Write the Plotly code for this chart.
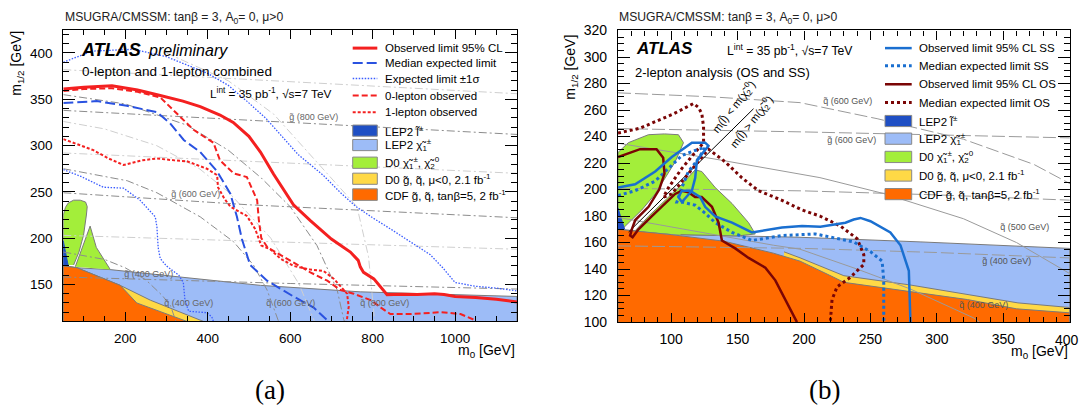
import plotly.graph_objects as go

W, H = 1081, 419
SANS = "Liberation Sans, Arial, sans-serif"
SERIF = "Liberation Serif, Times New Roman, serif"

# ================= Panel (a) data (m0, m1/2 in GeV) =================
a_obs_m0 = [50, 100, 168, 230, 285, 340, 382, 430, 462, 500, 528, 560, 608, 649, 700, 746, 765, 770, 778, 803, 835, 870, 908, 950, 973, 1000, 1050, 1100, 1150]
a_obs_m12 = [361, 363, 364.5, 360, 354, 348, 342, 333, 325, 310, 293, 269, 236, 219, 199, 185, 176, 169, 163, 156, 139, 139.5, 139, 140, 139, 137, 136, 134, 131]

a_med_m0 = [50, 131, 204, 277, 309, 342, 382, 423, 455, 471, 483, 503, 544, 608, 657, 689, 693]
a_med_m12 = [346, 348, 343, 336, 324, 306, 293, 272, 248, 223, 199, 171, 154, 137, 125, 111, 110]

a_up_m0 = [50, 120, 220, 300, 400, 450, 495, 540, 580, 620, 680, 720, 760, 800, 850, 900, 940, 970, 1000, 1050, 1100, 1150]
a_up_m12 = [390, 402, 404, 396, 378, 365, 348, 330, 310, 290, 268, 250, 234, 222, 208, 194, 182, 168, 152, 148, 146, 143]

a_lo_m0 = [50, 91, 147, 196, 236, 273, 277, 280, 285, 300, 330, 341, 345, 354, 398, 410, 414]
a_lo_m12 = [274, 267, 255, 254, 241, 223, 212, 190, 178, 170, 160, 152, 133, 121, 119.5, 115, 110]

a_0l_m0 = [50, 100, 168, 230, 285, 333, 366, 414, 430, 463, 495, 520, 524, 530, 545, 576, 617, 649, 690, 722, 754, 795, 820, 843, 892, 965, 1013, 1045, 1050]
a_0l_m12 = [359, 361, 362, 358, 352, 331, 317, 303, 284, 270, 266, 241, 220, 200, 190, 182, 171, 163, 154, 144, 140, 133, 125, 118, 118, 120, 118, 112, 110]

a_1l_m0 = [50, 90, 123, 160, 196, 240, 277, 320, 350, 398, 423, 425, 440, 455, 495, 515, 530, 552, 576, 608, 649, 681, 706, 730, 738, 742, 738, 737]
a_1l_m12 = [307, 300, 295, 286, 279, 284, 286, 284, 283, 275, 268, 255, 243, 234, 224, 210, 192, 188, 178, 170, 166, 164.5, 156, 144, 140, 126, 113, 110]

# excluded regions (a)
a_lepc_m0 = [50, 50, 83, 164, 333, 528, 770, 1150, 1150]
a_lepc_m12 = [110, 170, 168, 166, 158, 149, 142, 137, 110]
a_d0gq_m0 = [50, 50, 83, 188, 261, 390]
a_d0gq_m12 = [110, 170, 168, 149, 133, 110]
a_cdf_m0 = [50, 50, 83, 188, 228, 350]
a_cdf_m12 = [110, 170, 168, 149, 130, 110]
a_d0c1_m0 = [50, 50, 55, 62, 75, 91, 104, 108, 106, 99, 88, 75]
a_d0c1_m12 = [171, 225, 233, 238, 241, 241, 239, 234, 225, 203, 185, 171]
a_d0c2_m0 = [79, 115, 130, 164]
a_d0c2_m12 = [169, 213, 190, 166]
a_lepl_m0 = [50, 50, 54, 59, 62]
a_lepl_m12 = [170, 197, 188, 178, 170]

# iso-mass lines (a)
a_g400_m0, a_g400_m12 = [50, 600, 1150], [158, 151, 145]
a_g600_m0, a_g600_m12 = [50, 500, 1150], [249, 236, 222]
a_g800_m0, a_g800_m12 = [50, 550, 1150], [338, 326, 312]
a_g500_m0, a_g500_m12 = [50, 1150], [203, 188]
a_g700_m0, a_g700_m12 = [50, 1150], [292, 270]
a_g900_m0, a_g900_m12 = [50, 1150], [382, 356]
a_q400_m0 = [50, 150, 200, 250, 290, 310, 323]
a_q400_m12 = [185, 177, 168, 155, 138, 127, 110]
a_q600_m0 = [50, 205, 277, 382, 463, 511, 544, 568, 572]
a_q600_m12 = [275, 262, 249, 223, 196, 171, 144, 113, 110]
a_q800_m0 = [50, 200, 350, 450, 530, 600, 665, 714, 730, 732]
a_q800_m12 = [355, 345, 322, 295, 265, 234, 192, 144, 112, 110]
a_q700_m0 = [50, 150, 276, 380, 450, 553, 622, 659]
a_q700_m12 = [326, 318, 300, 275, 250, 200, 150, 110]
a_q900_m0 = [300, 450, 560, 660, 762, 790, 803, 805]
a_q900_m12 = [400, 370, 334, 285, 234, 180, 113, 110]

# ================= Panel (b) data =================
b_ssobs_m0 = [60, 72.9, 88, 100.5, 115.6, 125.6, 128.1, 123.1, 119.4, 118.1, 115.6, 108.1, 105.5, 108.1, 114.3, 121.9, 125.6, 133.2, 145.8, 160.8, 168.4, 183.4, 198.5, 212.3, 231.2, 237.4, 242.5, 250, 265, 272.6, 278.9, 280.1]
b_ssobs_m12 = [201.5, 204, 213.6, 224.5, 235.4, 235.4, 233, 226.9, 222.1, 208.8, 199.1, 190.6, 194.3, 199.1, 199.1, 194.3, 187, 179.8, 175, 167.7, 168.9, 171.4, 172.5, 172, 175, 177.4, 178.6, 176.1, 167.7, 158, 138.7, 100]
b_ssexp_m0 = [60, 72.9, 88, 100.5, 108.1, 120.6, 125.6, 120.6, 113, 108.1, 104.3, 108.1, 118.1, 125.6, 133.2, 145.8, 160.8, 183.4, 208.5, 237.4, 250, 258.8, 260, 260]
b_ssexp_m12 = [195.5, 199.1, 206.4, 218.5, 225.7, 230.5, 231.8, 223.3, 213.6, 201.5, 190.6, 190.6, 188.2, 182.2, 175, 167.7, 161.6, 165.3, 166.5, 160.5, 153.2, 146, 131.5, 100]
b_osobs_m0 = [60, 76.6, 89, 94, 95, 91, 83, 73, 70.4, 69.1, 71, 75.4, 85.5, 95.5, 103, 108, 113, 118, 123, 130.7, 135.7, 138.2, 148.2, 158.3, 170.9, 178.4, 186, 193.5, 194.7]
b_osobs_m12 = [224.5, 230.5, 230.5, 224, 212, 200, 187, 177, 170, 165.3, 164, 170, 180, 189.5, 196.7, 199, 198, 194.3, 194.3, 187, 175, 161.6, 155.6, 148.4, 141.1, 131.5, 117, 102.5, 100]
b_osexp_m0 = [60, 76.6, 101.7, 116.8, 120.6, 123.1, 124.4, 124.4, 118.1, 108.1, 98, 94.2, 100.5, 110.6, 120.6, 128.1, 140.7, 153.3, 165.8, 183.4, 198.5, 212, 227.4, 240, 245, 245, 235, 224.9, 221.1, 219.8]
b_osexp_m12 = [242.6, 246.3, 257.1, 264.9, 262, 257.1, 247.5, 235.4, 228.1, 216, 201.5, 194.3, 196.7, 208.8, 220.9, 230.5, 220.9, 208.8, 199.1, 191.9, 184.6, 180, 172.5, 162.9, 150.8, 143.5, 133.9, 126.6, 117, 100]

# excluded regions (b)
b_lepc_m0 = [60, 60, 107, 150, 197, 288, 400, 400]
b_lepc_m12 = [100, 170, 166, 165, 164, 160.5, 155.6, 100]
b_d0gq_m0 = [185, 197, 230, 280, 361, 400, 400, 185]
b_d0gq_m12 = [153, 148.5, 135, 128, 114.5, 111, 100, 100]
b_cdf_m0 = [60, 60, 100, 140, 177, 197, 222, 230, 280, 323, 360, 400, 400]
b_cdf_m12 = [100, 170, 166, 161, 152, 146, 134, 130, 123, 117, 110, 107, 100]
b_d0cL_m0 = [60, 60, 67.8, 82.9, 95, 105.5, 109.3, 103, 95.5, 88, 77.9, 67.8, 63]
b_d0cL_m12 = [170, 228, 235.4, 241.4, 242, 241.4, 235.4, 220.9, 208.8, 196.7, 184.6, 175, 170]
b_d0cR_m0 = [72.9, 82.9, 95.5, 108, 118.1, 123.1, 133.2, 145.8, 158.3, 163.3, 150, 107]
b_d0cR_m12 = [168.9, 179.8, 191.9, 204, 214.9, 213.6, 201.5, 189.5, 175, 166.5, 165, 166]
b_lepl_m0 = [60, 60, 65]
b_lepl_m12 = [170, 186, 170]

# iso-mass and kinematic lines (b)
b_q600_m0, b_q600_m12 = [60, 130, 197, 255, 320, 373, 401], [273, 270, 265.6, 253.5, 238, 219, 204]
b_g600_m0, b_g600_m12 = [60, 200, 400], [246, 243.5, 239]
b_g500_m0, b_g500_m12 = [60, 200, 300, 400], [201, 199, 196, 192]
b_q500_m0, b_q500_m12 = [60, 133, 212, 260, 320, 360, 401], [235, 223, 209, 197, 178, 160, 136]
b_g400_m0, b_g400_m12 = [60, 200, 300, 400], [157.5, 155.6, 152.5, 148.4]
b_q400_m0, b_q400_m12 = [60, 120, 177, 197, 240, 280, 328, 332], [179, 168, 158, 155, 140, 125, 103, 100]
b_kin_m0, b_kin_m12 = [68, 162], [168, 261]

# colours
C_LEPL = "#1F4FC4"
C_LEPC = "#9DBCF7"
C_D0C = "#A3EE3A"
C_D0GQ = "#FFD946"
C_CDF = "#FF6A00"
C_RED = "#F42020"
C_BLUE = "#2A52E0"
C_BLUED = "#3A5CFF"
C_SS = "#1A6FD0"
C_OS = "#7A0505"

fig = go.Figure()


def line(xs, ys, color, width, dash, p):
    fig.add_trace(go.Scatter(x=xs, y=ys, mode="lines", xaxis="x" if p == "a" else "x2",
                             yaxis="y" if p == "a" else "y2",
                             line=dict(color=color, width=width, dash=dash),
                             showlegend=False, hoverinfo="skip"))


def fill(xs, ys, color, p, lc="#7a7a7a"):
    fig.add_trace(go.Scatter(x=xs, y=ys, mode="lines", fill="toself", fillcolor=color,
                             xaxis="x" if p == "a" else "x2", yaxis="y" if p == "a" else "y2",
                             line=dict(color=lc, width=1), showlegend=False, hoverinfo="skip"))


# ---- panel a ----
fill(a_lepc_m0, a_lepc_m12, C_LEPC, "a")
fill(a_d0gq_m0, a_d0gq_m12, C_D0GQ, "a")
fill(a_cdf_m0, a_cdf_m12, C_CDF, "a")
fill(a_d0c1_m0, a_d0c1_m12, C_D0C, "a")
fill(a_d0c2_m0, a_d0c2_m12, C_D0C, "a")
fill(a_lepl_m0, a_lepl_m12, C_LEPL, "a", lc=C_LEPL)
DD = "8px,3px,2px,3px"
for xs, ys in [(a_g500_m0, a_g500_m12), (a_g700_m0, a_g700_m12), (a_g900_m0, a_g900_m12),
               (a_q700_m0, a_q700_m12), (a_q900_m0, a_q900_m12)]:
    line(xs, ys, "#cfcfcf", 1, DD, "a")
for xs, ys in [(a_g400_m0, a_g400_m12), (a_g600_m0, a_g600_m12), (a_g800_m0, a_g800_m12),
               (a_q400_m0, a_q400_m12), (a_q600_m0, a_q600_m12), (a_q800_m0, a_q800_m12)]:
    line(xs, ys, "#8c8c8c", 1, DD, "a")
line(a_up_m0, a_up_m12, C_BLUED, 1.3, "1.5px,1.5px", "a")
line(a_lo_m0, a_lo_m12, C_BLUED, 1.3, "1.5px,1.5px", "a")
line(a_med_m0, a_med_m12, C_BLUE, 2, "10px,4px", "a")
line(a_1l_m0, a_1l_m12, C_RED, 2, "3px,2px", "a")
line(a_0l_m0, a_0l_m12, C_RED, 2, "6px,3px", "a")
line(a_obs_m0, a_obs_m12, C_RED, 3, "solid", "a")

# ---- panel b ----
fill(b_lepc_m0, b_lepc_m12, C_LEPC, "b")
fill(b_d0cL_m0, b_d0cL_m12, C_D0C, "b")
fill(b_d0cR_m0, b_d0cR_m12, C_D0C, "b")
fill(b_d0gq_m0, b_d0gq_m12, C_D0GQ, "b")
fill(b_cdf_m0, b_cdf_m12, C_CDF, "b")
fill(b_lepl_m0, b_lepl_m12, C_LEPL, "b", lc=C_LEPL)
LD = "13px,4px"
for xs, ys in [(b_q600_m0, b_q600_m12), (b_g600_m0, b_g600_m12), (b_g500_m0, b_g500_m12),
               (b_g400_m0, b_g400_m12)]:
    line(xs, ys, "#9a9a9a", 1, LD, "b")
for xs, ys in [(b_q500_m0, b_q500_m12), (b_q400_m0, b_q400_m12)]:
    line(xs, ys, "#9a9a9a", 1, "solid", "b")
line(b_kin_m0, b_kin_m12, "black", 1, "solid", "b")
line(b_osexp_m0, b_osexp_m12, C_OS, 3, "3px,3px", "b")
line(b_ssexp_m0, b_ssexp_m12, C_SS, 3, "3px,3px", "b")
line(b_osobs_m0, b_osobs_m12, C_OS, 2.5, "solid", "b")
line(b_ssobs_m0, b_ssobs_m12, C_SS, 2.5, "solid", "b")

# ---- axes ----
common = dict(showline=True, linecolor="black", linewidth=1.2, mirror="ticks", ticks="inside",
              tickcolor="black", tickwidth=1, showgrid=False, zeroline=False)
fig.update_layout(
    width=W, height=H, margin=dict(l=0, r=0, t=0, b=0),
    paper_bgcolor="white", plot_bgcolor="white", showlegend=False,
    xaxis=dict(domain=[63.3 / W, 517 / W], range=[50, 1150], anchor="y", tick0=0, dtick=200, ticklen=9,
               minor=dict(ticks="inside", ticklen=5, dtick=50, tick0=0, tickcolor="black"),
               tickfont=dict(family=SANS, size=13.5, color="black"), ticklabelstandoff=4, **common),
    yaxis=dict(domain=[1 - 325.9 / H, 1 - 22.7 / H], range=[110, 425], anchor="x", tick0=0, dtick=50, ticklen=12,
               minor=dict(ticks="inside", ticklen=6, dtick=10, tick0=0, tickcolor="black"),
               tickfont=dict(family=SANS, size=13.5, color="black"), ticklabelstandoff=7, **common),
    xaxis2=dict(domain=[618 / W, 1070 / W], range=[60, 400.2], anchor="y2", tick0=0, dtick=50, ticklen=9,
                minor=dict(ticks="inside", ticklen=5, dtick=10, tick0=0, tickcolor="black"),
                tickfont=dict(family=SANS, size=14, color="black"), ticklabelstandoff=4, **common),
    yaxis2=dict(domain=[1 - 326.7 / H, 1 - 23.3 / H], range=[99.9, 320.1], anchor="x2", tick0=0, dtick=20, ticklen=12,
                minor=dict(ticks="inside", ticklen=6, dtick=5, tick0=0, tickcolor="black"),
                tickfont=dict(family=SANS, size=14, color="black"), ticklabelstandoff=7, **common),
)

anns = []
shapes = []


def T(text, px, py, size=12, xa="left", ya="middle", color="black", angle=0, family=SANS):
    anns.append(dict(text=text, x=px / W, y=1 - py / H, xref="paper", yref="paper", showarrow=False,
                     xanchor=xa, yanchor=ya, textangle=angle,
                     font=dict(family=family, size=size, color=color)))


def Lkey(x0, x1, py, color, width, dash):
    shapes.append(dict(type="line", xref="paper", yref="paper", x0=x0 / W, x1=x1 / W,
                       y0=1 - py / H, y1=1 - py / H, line=dict(color=color, width=width, dash=dash)))


def Bkey(x0, x1, y0, y1, color):
    shapes.append(dict(type="rect", xref="paper", yref="paper", x0=x0 / W, x1=x1 / W,
                       y0=1 - y1 / H, y1=1 - y0 / H, fillcolor=color, line=dict(color="#888888", width=1)))


# ---- panel a texts ----
T("MSUGRA/CMSSM: tanβ = 3, A<sub>0</sub>= 0, μ&gt;0", 63, 10, 12.2, color="#222")
T("<b><i>ATLAS</i></b>", 79, 44, 18)
T("<i>preliminary</i>", 146, 44, 16)
T("0-lepton and 1-lepton combined", 80, 66, 13.5)
T("L<sup>int</sup> = 35 pb<sup>-1</sup>, √s=7 TeV", 208, 89, 11.8)
T("m<sub>1/2</sub> [GeV]", 17, 58, 14, xa="center", angle=-90)
T("m<sub>0</sub> [GeV]", 517, 357, 14, xa="right")
T("(a)", 270, 397, 27, xa="center", family=SERIF)
for txt, cx, cy in [("g̃ (400 GeV)", 148, 277), ("q̃ (400 GeV)", 188, 307), ("g̃ (600 GeV)", 195, 193),
                    ("g̃ (800 GeV)", 313, 113), ("q̃ (600 GeV)", 290, 307), ("q̃ (800 GeV)", 384, 307)]:
    T(txt, cx, cy, 9, xa="center", color="#666")

lx0, lx1, ltx = 352.7, 377.3, 382.7
Lkey(lx0, lx1, 41.7, C_RED, 3, "solid"); T("Observed limit 95% CL", ltx, 41.7, 11.5)
Lkey(lx0, lx1, 57.3, C_BLUE, 2, "10px,4px"); T("Median expected limit", ltx, 57.3, 11.5)
Lkey(lx0, lx1, 73.3, C_BLUED, 1.3, "1.5px,1.5px"); T("Expected limit ±1σ", ltx, 73.3, 11.5)
Lkey(lx0, lx1, 91, C_RED, 2, "6px,3px"); T("0-lepton observed", ltx, 91, 11.5)
Lkey(lx0, lx1, 108.3, C_RED, 2, "3px,2px"); T("1-lepton observed", ltx, 108.3, 11.5)
boxes = [(121.7, 133.3, C_LEPL, "LEP2 l̃<sup>±</sup>"),
         (136.7, 148.3, C_LEPC, "LEP2 χ̃<sub>1</sub><sup>±</sup>"),
         (155, 166.7, C_D0C, "D0 χ̃<sub>1</sub><sup>±</sup>, χ̃<sub>2</sub><sup>0</sup>"),
         (171.7, 183.3, C_D0GQ, "D0 g̃, q̃, μ&lt;0, 2.1 fb<sup>-1</sup>"),
         (188, 200, C_CDF, "CDF g̃, q̃, tanβ=5, 2 fb<sup>-1</sup>")]
for y0, y1, c, txt in boxes:
    Bkey(lx0, lx1, y0, y1, c)
    T(txt, ltx, (y0 + y1) / 2, 11.5)

# ---- panel b texts ----
T("MSUGRA/CMSSM: tanβ = 3, A<sub>0</sub>= 0, μ&gt;0", 617, 10, 12.2, color="#222")
T("<b><i>ATLAS</i></b>", 634, 42, 17)
T("L<sup>int</sup> = 35 pb<sup>-1</sup>, √s=7 TeV", 725, 44, 12.2)
T("2-lepton analysis (OS and SS)", 633, 67, 13)
T("m<sub>1/2</sub> [GeV]", 571, 62, 14, xa="center", angle=-90)
T("m<sub>0</sub> [GeV]", 1070, 358, 14, xa="right")
T("(b)", 824, 397, 27, xa="center", family=SERIF)
# last x tick label of panel (b) sits at the page edge; plotly hides it, so draw it flush right
T("400", 1081, 345, 14, xa="right")
for txt, cx, cy in [("q̃ (600 GeV)", 847, 97), ("g̃ (600 GeV)", 851, 137), ("q̃ (500 GeV)", 1024, 228),
                    ("g̃ (400 GeV)", 1006, 263), ("q̃ (400 GeV)", 983, 309)]:
    T(txt, cx, cy, 9, xa="center", color="#555")
T("m(l̃) &lt; m(χ̃<sub>2</sub><sup>0</sup>)", 734, 103, 11, xa="center", angle=-52)
T("m(l̃) &gt; m(χ̃<sub>2</sub><sup>0</sup>)", 752, 119, 11, xa="center", angle=-52)

bx0, bx1, btx = 885, 911.7, 916.7
Lkey(bx0, bx1, 41.7, C_SS, 2.5, "solid"); T("Observed limit 95% CL SS", btx, 41.7, 11.5)
Lkey(bx0, bx1, 60, C_SS, 3, "3px,3px"); T("Median expected limit SS", btx, 60, 11.5)
Lkey(bx0, bx1, 79.3, C_OS, 2.5, "solid"); T("Observed limit 95% CL OS", btx, 79.3, 11.5)
Lkey(bx0, bx1, 98.3, C_OS, 3, "3px,3px"); T("Median expected limit OS", btx, 98.3, 11.5)
bboxes = [(111.7, 123.3, C_LEPL, "LEP2 l̃<sup>±</sup>"),
          (130, 141.7, C_LEPC, "LEP2 χ̃<sub>1</sub><sup>±</sup>"),
          (149, 160.7, C_D0C, "D0 χ̃<sub>1</sub><sup>±</sup>, χ̃<sub>2</sub><sup>0</sup>"),
          (168.3, 180, C_D0GQ, "D0 g̃, q̃, μ&lt;0, 2.1 fb<sup>-1</sup>"),
          (187.7, 199.3, C_CDF, "CDF g̃, q̃, tanβ=5, 2 fb<sup>-1</sup>")]
for y0, y1, c, txt in bboxes:
    Bkey(bx0, bx1, y0, y1, c)
    T(txt, btx, (y0 + y1) / 2, 11.5)

fig.update_layout(annotations=anns, shapes=shapes)
fig.write_html("out.html")
